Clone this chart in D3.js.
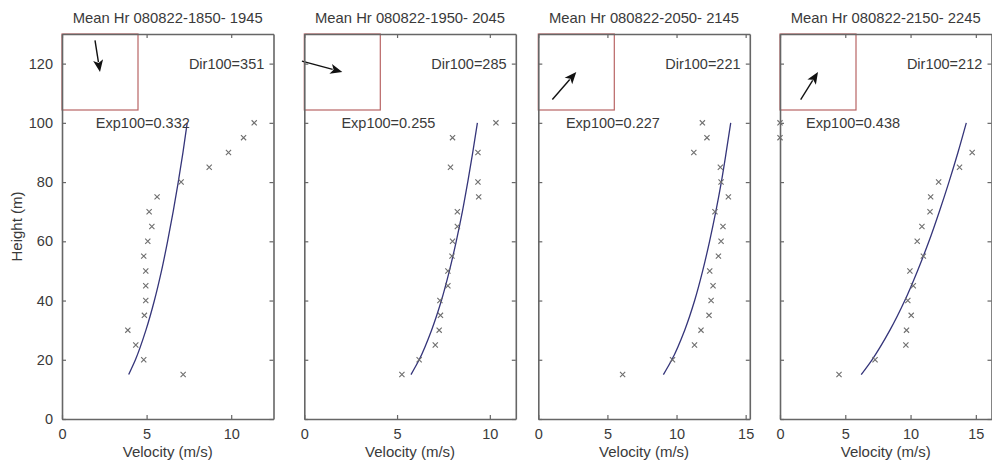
<!DOCTYPE html>
<html><head><meta charset="utf-8">
<script src="https://cdn.jsdelivr.net/npm/d3@7"></script>
<style>
html,body{margin:0;padding:0;background:#fff;}
svg text{font-family:"Liberation Sans",Arial,sans-serif;fill:#3a3a3a;}
</style></head>
<body><svg id="c" width="992" height="465"></svg>
<script>
// ---- data ----
const titles = ["Mean Hr 080822-1850- 1945","Mean Hr 080822-1950- 2045","Mean Hr 080822-2050- 2145","Mean Hr 080822-2150- 2245"];
const heights = [15,20,25,30,35,40,45,50,55,60,65,70,75,80,85,90,95,100];
const vel1 = [7.16,4.83,4.36,3.89,4.87,4.95,4.95,4.95,4.83,5.07,5.31,5.15,5.62,7.04,8.70,9.84,10.73,11.36];
const vel2 = [5.26,6.19,7.06,7.27,7.34,7.31,7.74,7.74,7.96,7.99,8.25,8.25,9.40,9.36,7.88,9.36,7.99,10.33];
const vel3 = [6.10,9.71,11.30,11.77,12.35,12.50,12.64,12.40,13.03,13.22,13.36,12.78,13.75,13.22,13.17,11.25,12.20,11.87];
const vel4 = [4.52,7.28,9.64,9.69,10.05,9.79,10.21,9.95,10.98,10.51,10.87,11.49,11.54,12.15,13.75,14.72,0,0];
const fitHeights = [15,20,30,40,50,60,70,80,90,100];
const fit1 = [3.94,4.34,4.96,5.46,5.88,6.24,6.57,6.87,7.15,7.40];
const fit2 = [5.75,6.19,6.86,7.39,7.82,8.19,8.52,8.81,9.08,9.33];
const fit3 = [9.05,9.66,10.59,11.31,11.89,12.39,12.84,13.24,13.59,13.92];
const fit4 = [6.22,7.05,8.42,9.56,10.53,11.41,12.20,12.94,13.63,14.27];
const xMax = [12.5,11.4,15.3,16.2];
const xTicks = [[0,5,10],[0,5,10],[0,5,10,15],[0,5,10,15]];
const yTicks = [0,20,40,60,80,100,120];
const dir100 = [351,285,221,212];
const exp100 = ["0.332","0.255","0.227","0.438"];
const arrowMag = [0.84,1.1,0.96,0.86];

const vels = [vel1,vel2,vel3,vel4];
const fits = [fit1,fit2,fit3,fit4];

// ---- layout ----
const lefts = [62,304.3,538.3,780];
const pw = 211.5, topY = 34, bottomY = 419;
const axisCol = "#666";
const svg = d3.select("#c");

const y = d3.scaleLinear().domain([0,130]).range([bottomY, topY]);

lefts.forEach((L,i)=>{
  const x = d3.scaleLinear().domain([0,xMax[i]]).range([L, L+pw]);
  const g = svg.append("g");

  // inset box
  const insW = 76;
  g.append("rect").attr("x",L).attr("y",topY).attr("width",insW).attr("height",insW)
    .attr("fill","none").attr("stroke","#b86464").attr("stroke-width",1.2);
  const ix = d3.scaleLinear().domain([-1,1]).range([L, L+insW]);
  const iy = d3.scaleLinear().domain([-1,1]).range([topY+insW, topY]);
  const th = (dir100[i]-180)*Math.PI/180;
  const vx = Math.sin(th)*arrowMag[i], vy = Math.cos(th)*arrowMag[i];
  const hx = ix(0), hy = iy(0), tx = ix(-vx), ty = iy(-vy);
  const ang = Math.atan2(hy-ty, hx-tx);
  const hl = 12, hw = 5;
  const bx = hx - hl*Math.cos(ang), by = hy - hl*Math.sin(ang);
  g.append("line").attr("x1",tx).attr("y1",ty).attr("x2",bx+2*Math.cos(ang)).attr("y2",by+2*Math.sin(ang))
    .attr("stroke","#111").attr("stroke-width",1.4);
  g.append("path").attr("d",`M${hx},${hy}L${bx+hw*Math.sin(ang)},${by-hw*Math.cos(ang)}L${bx+3*Math.cos(ang)},${by+3*Math.sin(ang)}L${bx-hw*Math.sin(ang)},${by+hw*Math.cos(ang)}Z`)
    .attr("fill","#111");

  // axes box
  const axB = g.append("g").attr("transform",`translate(0,${bottomY})`)
    .call(d3.axisBottom(x).tickValues(xTicks[i]).tickSizeInner(-4).tickSizeOuter(0).tickPadding(10));
  const axT = g.append("g").attr("transform",`translate(0,${topY})`)
    .call(d3.axisTop(x).tickValues(xTicks[i]).tickSizeInner(-4).tickSizeOuter(0).tickFormat(""));
  const axL = g.append("g").attr("transform",`translate(${L},0)`)
    .call(d3.axisLeft(y).tickValues(yTicks).tickSizeInner(-4).tickSizeOuter(0).tickPadding(9).tickFormat(i===0?d3.format("d"):""));
  const axR = g.append("g").attr("transform",`translate(${L+pw},0)`)
    .call(d3.axisRight(y).tickValues(yTicks).tickSizeInner(-4).tickSizeOuter(0).tickFormat(""));
  [axB,axT,axL,axR].forEach(a=>{
    a.select(".domain").attr("stroke",axisCol).attr("stroke-width",1.6);
    a.selectAll(".tick line").attr("stroke",axisCol).attr("stroke-width",1.2);
    a.selectAll(".tick text").attr("font-size",14.5).attr("fill","#3a3a3a")
      .style("font-family","'Liberation Sans',Arial,sans-serif");
  });

  // fit curve
  const line = d3.line().x(d=>x(d[0])).y(d=>y(d[1])).curve(d3.curveMonotoneY);
  g.append("path").datum(fits[i].map((v,k)=>[v,fitHeights[k]]))
    .attr("d",line).attr("fill","none").attr("stroke","#35357a").attr("stroke-width",1.3);

  // markers
  const s = 2.6;
  g.selectAll("path.pt").data(vels[i].map((v,k)=>[v,heights[k]])).enter().append("path")
    .attr("class","pt")
    .attr("d",d=>{const px=x(d[0]),py=y(d[1]);return `M${px-s},${py-s}L${px+s},${py+s}M${px-s},${py+s}L${px+s},${py-s}`;})
    .attr("stroke","#6e6e6e").attr("stroke-width",1.1).attr("fill","none");

  // texts
  g.append("text").attr("x",L+pw/2).attr("y",22.5).attr("text-anchor","middle")
    .attr("font-size",14.8).text(titles[i]);
  g.append("text").attr("x",x(xMax[i]*0.6)).attr("y",y(120)).attr("dy","0.35em")
    .attr("font-size",14.5).text("Dir100="+dir100[i]);
  g.append("text").attr("x",x(2)).attr("y",y(100)).attr("dy","0.35em")
    .attr("font-size",14.5).text("Exp100="+exp100[i]);
  g.append("text").attr("x",L+pw/2).attr("y",457).attr("text-anchor","middle")
    .attr("font-size",15).text("Velocity (m/s)");
});

svg.append("text").attr("transform",`translate(22,${(topY+bottomY)/2}) rotate(-90)`)
  .attr("text-anchor","middle").attr("font-size",15).text("Height (m)");
</script></body></html>
